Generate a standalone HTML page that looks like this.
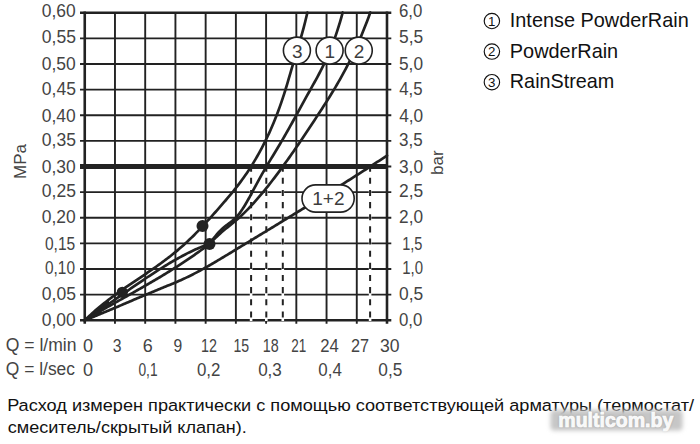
<!DOCTYPE html>
<html><head><meta charset="utf-8"><title>Flow chart</title>
<style>
html,body{margin:0;padding:0;background:#fff;}
body{width:700px;height:444px;overflow:hidden;position:relative;font-family:"Liberation Sans",Arial,sans-serif;}
svg{position:absolute;left:0;top:0;}
svg text{font-family:"Liberation Sans",Arial,sans-serif;}
.note{position:absolute;left:7px;top:393px;width:700px;font-size:16px;line-height:23.7px;color:#111;white-space:nowrap;}
.wm{text-shadow:0 0 3px rgba(0,0,0,.12);}
</style></head><body>
<svg width="700" height="444" viewBox="0 0 700 444">
<defs><filter id="wmb" x="-20%" y="-50%" width="140%" height="200%"><feGaussianBlur stdDeviation="2"/></filter></defs>
<line x1="114.97" y1="12.7" x2="114.97" y2="323.8" stroke="#222" stroke-width="1.9"/>
<line x1="145.20" y1="12.7" x2="145.20" y2="323.8" stroke="#222" stroke-width="1.9"/>
<line x1="175.43" y1="12.7" x2="175.43" y2="323.8" stroke="#222" stroke-width="1.9"/>
<line x1="205.65" y1="12.7" x2="205.65" y2="323.8" stroke="#222" stroke-width="1.9"/>
<line x1="235.88" y1="12.7" x2="235.88" y2="323.8" stroke="#222" stroke-width="1.9"/>
<line x1="266.10" y1="12.7" x2="266.10" y2="323.8" stroke="#222" stroke-width="1.9"/>
<line x1="296.33" y1="12.7" x2="296.33" y2="323.8" stroke="#222" stroke-width="1.9"/>
<line x1="326.55" y1="12.7" x2="326.55" y2="323.8" stroke="#222" stroke-width="1.9"/>
<line x1="356.78" y1="12.7" x2="356.78" y2="323.8" stroke="#222" stroke-width="1.9"/>
<line x1="80" y1="294.667" x2="391.3" y2="294.667" stroke="#222" stroke-width="1.9"/>
<line x1="80" y1="269.034" x2="391.3" y2="269.034" stroke="#222" stroke-width="1.9"/>
<line x1="80" y1="243.401" x2="391.3" y2="243.401" stroke="#222" stroke-width="1.9"/>
<line x1="80" y1="217.768" x2="391.3" y2="217.768" stroke="#222" stroke-width="1.9"/>
<line x1="80" y1="192.135" x2="391.3" y2="192.135" stroke="#222" stroke-width="1.9"/>
<line x1="80" y1="166.502" x2="391.3" y2="166.502" stroke="#222" stroke-width="1.9"/>
<line x1="80" y1="140.869" x2="391.3" y2="140.869" stroke="#222" stroke-width="1.9"/>
<line x1="80" y1="115.236" x2="391.3" y2="115.236" stroke="#222" stroke-width="1.9"/>
<line x1="80" y1="89.603" x2="391.3" y2="89.603" stroke="#222" stroke-width="1.9"/>
<line x1="80" y1="63.970" x2="391.3" y2="63.970" stroke="#222" stroke-width="1.9"/>
<line x1="80" y1="38.337" x2="391.3" y2="38.337" stroke="#222" stroke-width="1.9"/>
<line x1="80" y1="12.7" x2="391.3" y2="12.7" stroke="#222" stroke-width="2.6"/>
<line x1="80" y1="320.3" x2="391.3" y2="320.3" stroke="#222" stroke-width="2.6"/>
<line x1="84.75" y1="11.45" x2="84.75" y2="323.8" stroke="#222" stroke-width="2.6"/>
<line x1="387" y1="11.45" x2="387" y2="323.8" stroke="#222" stroke-width="2.6"/>
<line x1="251.10" y1="167" x2="251.10" y2="321" stroke="#fff" stroke-width="2.6"/>
<line x1="251.10" y1="165.6" x2="251.10" y2="321.5" stroke="#222" stroke-width="2" stroke-dasharray="6.1 6.05"/>
<line x1="266.30" y1="167" x2="266.30" y2="321" stroke="#fff" stroke-width="2.6"/>
<line x1="266.30" y1="165.6" x2="266.30" y2="321.5" stroke="#222" stroke-width="2" stroke-dasharray="6.1 6.05"/>
<line x1="282.80" y1="167" x2="282.80" y2="321" stroke="#fff" stroke-width="2.6"/>
<line x1="282.80" y1="165.6" x2="282.80" y2="321.5" stroke="#222" stroke-width="2" stroke-dasharray="6.1 6.05"/>
<line x1="370.10" y1="167" x2="370.10" y2="321" stroke="#fff" stroke-width="2.6"/>
<line x1="370.10" y1="165.6" x2="370.10" y2="321.5" stroke="#222" stroke-width="2" stroke-dasharray="6.1 6.05"/>
<polygon points="84.75,320.3 109,299.6 109,306.2" fill="#222"/>
<polygon points="84.75,320.3 101,310.6 101,313.6" fill="#222"/>
<path d="M84.75,320.30 L86.25,319.71 L87.75,319.11 L89.25,318.51 L90.75,317.90 L92.25,317.30 L93.75,316.69 L95.25,316.07 L96.75,315.46 L98.25,314.84 L99.75,314.22 L101.25,313.60 L102.75,312.98 L104.25,312.35 L105.75,311.72 L107.25,311.09 L108.75,310.46 L110.25,309.83 L111.75,309.20 L113.25,308.56 L114.75,307.93 L116.25,307.29 L117.75,306.65 L119.25,306.01 L120.75,305.37 L122.25,304.73 L123.75,304.09 L125.25,303.45 L126.75,302.81 L128.25,302.17 L129.75,301.53 L131.25,300.89 L132.75,300.25 L134.25,299.61 L135.75,298.97 L137.25,298.33 L138.75,297.69 L140.25,297.06 L141.75,296.42 L143.25,295.79 L144.75,295.15 L146.25,294.52 L147.75,293.89 L149.25,293.26 L150.75,292.64 L152.25,292.01 L153.75,291.39 L155.25,290.77 L156.75,290.15 L158.25,289.53 L159.75,288.92 L161.25,288.31 L162.75,287.70 L164.25,287.09 L165.75,286.48 L167.25,285.87 L168.75,285.26 L170.25,284.65 L171.75,284.03 L173.25,283.40 L174.75,282.77 L176.25,282.14 L177.75,281.49 L179.25,280.84 L180.75,280.17 L182.25,279.50 L183.75,278.81 L185.25,278.11 L186.75,277.40 L188.25,276.68 L189.75,275.94 L191.25,275.19 L192.75,274.43 L194.25,273.66 L195.75,272.89 L197.25,272.10 L198.75,271.30 L200.25,270.49 L201.75,269.67 L203.25,268.84 L204.75,268.01 L206.25,267.17 L207.75,266.32 L209.25,265.46 L210.75,264.60 L212.25,263.73 L213.75,262.86 L215.25,261.98 L216.75,261.10 L218.25,260.21 L219.75,259.32 L221.25,258.42 L222.75,257.52 L224.25,256.62 L225.75,255.71 L227.25,254.81 L228.75,253.90 L230.25,252.99 L231.75,252.08 L233.25,251.16 L234.75,250.25 L236.25,249.34 L237.75,248.43 L239.25,247.52 L240.75,246.61 L242.25,245.69 L243.75,244.78 L245.25,243.87 L246.75,242.96 L248.25,242.05 L249.75,241.14 L251.25,240.23 L252.75,239.32 L254.25,238.41 L255.75,237.50 L257.25,236.59 L258.75,235.68 L260.25,234.77 L261.75,233.86 L263.25,232.95 L264.75,232.04 L266.25,231.13 L267.75,230.21 L269.25,229.30 L270.75,228.39 L272.25,227.48 L273.75,226.57 L275.25,225.66 L276.75,224.74 L278.25,223.83 L279.75,222.92 L281.25,222.01 L282.75,221.09 L284.25,220.18 L285.75,219.26 L287.25,218.35 L288.75,217.43 L290.25,216.52 L291.75,215.60 L293.25,214.69 L294.75,213.77 L296.25,212.85 L297.75,211.93 L299.25,211.02 L300.75,210.10 L302.25,209.18 L303.75,208.26 L305.25,207.33 L306.75,206.41 L308.25,205.49 L309.75,204.57 L311.25,203.64 L312.75,202.72 L314.25,201.79 L315.75,200.87 L317.25,199.94 L318.75,199.01 L320.25,198.08 L321.75,197.15 L323.25,196.22 L324.75,195.29 L326.25,194.36 L327.75,193.43 L329.25,192.49 L330.75,191.56 L332.25,190.62 L333.75,189.69 L335.25,188.75 L336.75,187.81 L338.25,186.87 L339.75,185.93 L341.25,184.99 L342.75,184.04 L344.25,183.10 L345.75,182.15 L347.25,181.20 L348.75,180.26 L350.25,179.31 L351.75,178.36 L353.25,177.40 L354.75,176.45 L356.25,175.50 L357.75,174.54 L359.25,173.58 L360.75,172.62 L362.25,171.66 L363.75,170.70 L365.25,169.74 L366.75,168.78 L368.25,167.81 L369.75,166.84 L371.25,165.87 L372.75,164.90 L374.25,163.93 L375.75,162.96 L377.25,161.98 L378.75,161.01 L380.25,160.03 L381.75,159.05 L383.25,158.07 L384.75,157.08 L386.25,156.10 L387.00,155.61" fill="none" stroke="#222" stroke-width="2.7" stroke-linecap="round" stroke-linejoin="round"/>
<path d="M84.75,320.29 L86.25,319.30 L87.75,318.29 L89.25,317.28 L90.75,316.27 L92.25,315.26 L93.75,314.24 L95.25,313.21 L96.75,312.19 L98.25,311.16 L99.75,310.12 L101.25,309.09 L102.75,308.05 L104.25,307.01 L105.75,305.97 L107.25,304.92 L108.75,303.88 L110.25,302.83 L111.75,301.79 L113.25,300.74 L114.75,299.69 L116.25,298.64 L117.75,297.59 L119.25,296.55 L120.75,295.50 L122.25,294.45 L123.75,293.41 L125.25,292.36 L126.75,291.32 L128.25,290.28 L129.75,289.24 L131.25,288.20 L132.75,287.17 L134.25,286.13 L135.75,285.10 L137.25,284.08 L138.75,283.05 L140.25,282.03 L141.75,281.02 L143.25,280.01 L144.75,279.00 L146.25,278.00 L147.75,277.00 L149.25,276.01 L150.75,275.02 L152.25,274.04 L153.75,273.06 L155.25,272.09 L156.75,271.12 L158.25,270.17 L159.75,269.21 L161.25,268.27 L162.75,267.33 L164.25,266.41 L165.75,265.48 L167.25,264.57 L168.75,263.67 L170.25,262.78 L171.75,261.89 L173.25,261.02 L174.75,260.15 L176.25,259.30 L177.75,258.46 L179.25,257.63 L180.75,256.81 L182.25,256.00 L183.75,255.21 L185.25,254.43 L186.75,253.66 L188.25,252.91 L189.75,252.17 L191.25,251.44 L192.75,250.73 L194.25,250.03 L195.75,249.35 L197.25,248.69 L198.75,248.04 L200.25,247.41 L201.75,246.79 L203.25,246.19 L204.75,245.61 L206.25,245.05 L207.75,244.51 L209.25,243.98 L209.50,243.89 M209.50,243.91 L211.00,242.36 L212.50,240.84 L214.00,239.34 L215.50,237.88 L217.00,236.45 L218.50,235.05 L220.00,233.69 L221.50,232.36 L223.00,231.07 L224.50,229.81 L226.00,228.58 L227.50,227.37 L229.00,226.16 L230.50,224.96 L232.00,223.75 L233.50,222.53 L235.00,221.29 L236.50,220.02 L238.00,218.71 L239.50,217.37 L241.00,215.99 L242.50,214.57 L244.00,213.12 L245.50,211.64 L247.00,210.13 L248.50,208.58 L250.00,207.01 L251.50,205.40 L253.00,203.77 L254.50,202.11 L256.00,200.42 L257.50,198.70 L259.00,196.96 L260.50,195.20 L262.00,193.41 L263.50,191.60 L265.00,189.77 L266.50,187.91 L268.00,186.04 L269.50,184.14 L271.00,182.23 L272.50,180.29 L274.00,178.33 L275.50,176.36 L277.00,174.37 L278.50,172.36 L280.00,170.34 L281.50,168.29 L283.00,166.23 L284.50,164.16 L286.00,162.07 L287.50,159.97 L289.00,157.85 L290.50,155.72 L292.00,153.57 L293.50,151.41 L295.00,149.24 L296.50,147.06 L298.00,144.87 L299.50,142.67 L301.00,140.45 L302.50,138.23 L304.00,136.00 L305.50,133.76 L307.00,131.51 L308.50,129.25 L310.00,126.99 L311.50,124.72 L313.00,122.44 L314.50,120.16 L316.00,117.87 L317.50,115.58 L319.00,113.28 L320.50,110.98 L322.00,108.67 L323.50,106.35 L325.00,104.02 L326.50,101.67 L328.00,99.30 L329.50,96.91 L331.00,94.50 L332.50,92.05 L334.00,89.58 L335.50,87.07 L337.00,84.52 L338.50,81.94 L340.00,79.31 L341.50,76.64 L343.00,73.92 L344.50,71.15 L346.00,68.32 L347.50,65.44 L349.00,62.49 L350.50,59.48 L352.00,56.41 L353.50,53.27 L355.00,50.06 L356.50,46.77 L358.00,43.40 L359.50,39.95 L361.00,36.42 L362.50,32.81 L364.00,29.10 L365.50,25.30 L367.00,21.41 L368.50,17.42 L370.00,13.33 L370.30,12.50" fill="none" stroke="#222" stroke-width="2.7" stroke-linecap="round" stroke-linejoin="round"/>
<path d="M84.75,320.30 L86.25,319.40 L87.75,318.51 L89.25,317.62 L90.75,316.73 L92.25,315.85 L93.75,314.97 L95.25,314.10 L96.75,313.22 L98.25,312.36 L99.75,311.49 L101.25,310.63 L102.75,309.77 L104.25,308.91 L105.75,308.05 L107.25,307.20 L108.75,306.35 L110.25,305.50 L111.75,304.65 L113.25,303.80 L114.75,302.95 L116.25,302.11 L117.75,301.27 L119.25,300.42 L120.75,299.58 L122.25,298.74 L123.75,297.89 L125.25,297.05 L126.75,296.21 L128.25,295.36 L129.75,294.52 L131.25,293.67 L132.75,292.83 L134.25,291.98 L135.75,291.13 L137.25,290.28 L138.75,289.43 L140.25,288.57 L141.75,287.72 L143.25,286.86 L144.75,286.00 L146.25,285.13 L147.75,284.27 L149.25,283.40 L150.75,282.53 L152.25,281.65 L153.75,280.77 L155.25,279.89 L156.75,279.00 L158.25,278.11 L159.75,277.22 L161.25,276.32 L162.75,275.41 L164.25,274.50 L165.75,273.59 L167.25,272.67 L168.75,271.74 L170.25,270.81 L171.75,269.88 L173.25,268.94 L174.75,267.99 L176.25,267.03 L177.75,266.07 L179.25,265.11 L180.75,264.13 L182.25,263.15 L183.75,262.17 L185.25,261.17 L186.75,260.17 L188.25,259.16 L189.75,258.14 L191.25,257.11 L192.75,256.08 L194.25,255.03 L195.75,253.98 L197.25,252.92 L198.75,251.85 L200.25,250.77 L201.75,249.69 L203.25,248.59 L204.75,247.48 L206.25,246.37 L207.75,245.24 L209.25,244.10 L209.50,243.91 M209.50,243.90 L211.00,241.85 L212.50,239.84 L214.00,237.89 L215.50,236.01 L217.00,234.22 L218.50,232.51 L220.00,230.91 L221.50,229.42 L223.00,228.06 L224.50,226.81 L226.00,225.64 L227.50,224.51 L229.00,223.40 L230.50,222.27 L232.00,221.09 L233.50,219.83 L235.00,218.45 L236.50,216.94 L238.00,215.24 L239.50,213.35 L241.00,211.29 L242.50,209.08 L244.00,206.72 L245.50,204.25 L247.00,201.67 L248.50,199.01 L250.00,196.29 L251.50,193.51 L253.00,190.71 L254.50,187.89 L256.00,185.09 L257.50,182.30 L259.00,179.56 L260.50,176.87 L262.00,174.21 L263.50,171.60 L265.00,169.02 L266.50,166.46 L268.00,163.93 L269.50,161.42 L271.00,158.92 L272.50,156.43 L274.00,153.94 L275.50,151.45 L277.00,148.96 L278.50,146.46 L280.00,143.94 L281.50,141.40 L283.00,138.83 L284.50,136.24 L286.00,133.63 L287.50,130.99 L289.00,128.33 L290.50,125.66 L292.00,122.97 L293.50,120.27 L295.00,117.55 L296.50,114.83 L298.00,112.11 L299.50,109.37 L301.00,106.64 L302.50,103.90 L304.00,101.17 L305.50,98.44 L307.00,95.72 L308.50,93.01 L310.00,90.31 L311.50,87.62 L313.00,84.94 L314.50,82.25 L316.00,79.54 L317.50,76.79 L319.00,74.00 L320.50,71.14 L322.00,68.21 L323.50,65.19 L325.00,62.06 L326.50,58.82 L328.00,55.44 L329.50,51.92 L331.00,48.24 L332.50,44.38 L334.00,40.34 L335.50,36.10 L337.00,31.64 L338.50,26.96 L340.00,22.03 L341.50,16.84 L342.70,12.50" fill="none" stroke="#222" stroke-width="2.7" stroke-linecap="round" stroke-linejoin="round"/>
<path d="M84.75,320.29 L86.25,318.84 L87.75,317.42 L89.25,316.01 L90.75,314.63 L92.25,313.28 L93.75,311.94 L95.25,310.63 L96.75,309.34 L98.25,308.06 L99.75,306.81 L101.25,305.57 L102.75,304.36 L104.25,303.16 L105.75,301.97 L107.25,300.80 L108.75,299.65 L110.25,298.51 L111.75,297.38 L113.25,296.27 L114.75,295.17 L116.25,294.08 L117.75,293.00 L119.25,291.93 L120.75,290.87 L122.25,289.81 L123.75,288.77 L125.25,287.73 L126.75,286.70 L128.25,285.67 L129.75,284.65 L131.25,283.63 L132.75,282.61 L134.25,281.60 L135.75,280.59 L137.25,279.58 L138.75,278.57 L140.25,277.56 L141.75,276.55 L143.25,275.54 L144.75,274.53 L146.25,273.51 L147.75,272.49 L149.25,271.46 L150.75,270.43 L152.25,269.39 L153.75,268.35 L155.25,267.29 L156.75,266.23 L158.25,265.16 L159.75,264.09 L161.25,263.00 L162.75,261.89 L164.25,260.78 L165.75,259.66 L167.25,258.52 L168.75,257.37 L170.25,256.20 L171.75,255.02 L173.25,253.82 L174.75,252.60 L176.25,251.37 L177.75,250.11 L179.25,248.84 L180.75,247.55 L182.25,246.24 L183.75,244.91 L185.25,243.55 L186.75,242.18 L188.25,240.77 L189.75,239.35 L191.25,237.90 L192.75,236.43 L194.25,234.93 L195.75,233.41 L197.25,231.87 L198.75,230.32 L200.25,228.74 L201.75,227.15 L203.25,225.54 L204.75,223.91 L206.25,222.28 L207.75,220.63 L209.25,218.97 L210.75,217.30 L212.25,215.62 L213.75,213.94 L215.25,212.24 L216.75,210.55 L218.25,208.85 L219.75,207.14 L221.25,205.43 L222.75,203.72 L224.25,201.99 L225.75,200.25 L227.25,198.49 L228.75,196.72 L230.25,194.93 L231.75,193.11 L233.25,191.27 L234.75,189.41 L236.25,187.51 L237.75,185.57 L239.25,183.61 L240.75,181.60 L242.25,179.55 L243.75,177.46 L245.25,175.33 L246.75,173.14 L248.25,170.91 L249.75,168.62 L251.25,166.27 L252.75,163.87 L254.25,161.40 L255.75,158.88 L257.25,156.28 L258.75,153.62 L260.25,150.88 L261.75,148.07 L263.25,145.19 L264.75,142.22 L266.25,139.18 L267.75,136.04 L269.25,132.81 L270.75,129.48 L272.25,126.03 L273.75,122.47 L275.25,118.78 L276.75,114.96 L278.25,111.00 L279.75,106.88 L281.25,102.61 L282.75,98.17 L284.25,93.56 L285.75,88.77 L287.25,83.81 L288.75,78.73 L290.25,73.58 L291.75,68.44 L293.25,63.35 L294.75,58.35 L296.25,53.39 L297.75,48.41 L299.25,43.37 L300.75,38.21 L302.25,32.88 L303.75,27.32 L305.25,21.48 L306.75,15.30 L307.40,12.50" fill="none" stroke="#222" stroke-width="2.7" stroke-linecap="round" stroke-linejoin="round"/>
<line x1="80" y1="166.5" x2="387" y2="166.5" stroke="#222" stroke-width="5"/>
<circle cx="122.30" cy="292.30" r="5.6" fill="#222"/>
<circle cx="202.50" cy="225.90" r="6" fill="#222"/>
<circle cx="209.50" cy="243.90" r="6" fill="#222"/>
<circle cx="296.90" cy="50.6" r="13.5" fill="#fff" stroke="#222" stroke-width="1.6"/>
<text x="297.20" y="57.6" font-size="19" text-anchor="middle" fill="#3c3c3c">3</text>
<circle cx="358.75" cy="50.6" r="13.5" fill="#fff" stroke="#222" stroke-width="1.6"/>
<text x="359.05" y="57.6" font-size="19" text-anchor="middle" fill="#3c3c3c">2</text>
<circle cx="329.60" cy="50.6" r="13.5" fill="#fff" stroke="#222" stroke-width="1.6"/>
<text x="329.90" y="57.6" font-size="19" text-anchor="middle" fill="#3c3c3c">1</text>
<rect x="302" y="184.9" width="52.2" height="27.2" rx="13.6" fill="#fff" stroke="#222" stroke-width="1.6"/>
<text x="328.4" y="205.4" font-size="19" text-anchor="middle" fill="#3c3c3c">1+2</text>
<text x="41.80" y="326.23" font-size="17.50" fill="#444" textLength="33.96" lengthAdjust="spacingAndGlyphs">0,00</text>
<text x="398.99" y="326.23" font-size="17.50" fill="#444" textLength="23.37" lengthAdjust="spacingAndGlyphs">0,0</text>
<text x="41.80" y="299.73" font-size="17.50" fill="#444" textLength="34.12" lengthAdjust="spacingAndGlyphs">0,05</text>
<text x="398.99" y="299.73" font-size="17.50" fill="#444" textLength="24.17" lengthAdjust="spacingAndGlyphs">0,5</text>
<text x="44.98" y="274.33" font-size="17.50" fill="#444" textLength="30.01" lengthAdjust="spacingAndGlyphs">0,10</text>
<text x="402.21" y="274.33" font-size="17.50" fill="#444" textLength="20.78" lengthAdjust="spacingAndGlyphs">1,0</text>
<text x="44.98" y="249.73" font-size="17.50" fill="#444" textLength="30.27" lengthAdjust="spacingAndGlyphs">0,15</text>
<text x="402.20" y="249.73" font-size="17.50" fill="#444" textLength="20.23" lengthAdjust="spacingAndGlyphs">1,5</text>
<text x="41.80" y="223.23" font-size="17.50" fill="#444" textLength="33.96" lengthAdjust="spacingAndGlyphs">0,20</text>
<text x="399.05" y="223.23" font-size="17.50" fill="#444" textLength="23.95" lengthAdjust="spacingAndGlyphs">2,0</text>
<text x="41.80" y="197.43" font-size="17.50" fill="#444" textLength="34.12" lengthAdjust="spacingAndGlyphs">0,25</text>
<text x="399.02" y="197.43" font-size="17.50" fill="#444" textLength="24.19" lengthAdjust="spacingAndGlyphs">2,5</text>
<text x="41.80" y="173.23" font-size="17.50" fill="#444" textLength="33.96" lengthAdjust="spacingAndGlyphs">0,30</text>
<text x="399.03" y="173.23" font-size="17.50" fill="#444" textLength="23.98" lengthAdjust="spacingAndGlyphs">3,0</text>
<text x="41.80" y="146.33" font-size="17.50" fill="#444" textLength="34.12" lengthAdjust="spacingAndGlyphs">0,35</text>
<text x="399.03" y="146.33" font-size="17.50" fill="#444" textLength="23.58" lengthAdjust="spacingAndGlyphs">3,5</text>
<text x="41.80" y="122.13" font-size="17.50" fill="#444" textLength="33.96" lengthAdjust="spacingAndGlyphs">0,40</text>
<text x="399.20" y="122.13" font-size="17.50" fill="#444" textLength="23.98" lengthAdjust="spacingAndGlyphs">4,0</text>
<text x="41.80" y="94.63" font-size="17.50" fill="#444" textLength="34.12" lengthAdjust="spacingAndGlyphs">0,45</text>
<text x="399.20" y="94.63" font-size="17.50" fill="#444" textLength="23.28" lengthAdjust="spacingAndGlyphs">4,5</text>
<text x="41.80" y="70.23" font-size="17.50" fill="#444" textLength="33.96" lengthAdjust="spacingAndGlyphs">0,50</text>
<text x="399.04" y="70.23" font-size="17.50" fill="#444" textLength="23.96" lengthAdjust="spacingAndGlyphs">5,0</text>
<text x="41.80" y="42.93" font-size="17.50" fill="#444" textLength="34.12" lengthAdjust="spacingAndGlyphs">0,55</text>
<text x="399.02" y="42.93" font-size="17.50" fill="#444" textLength="24.19" lengthAdjust="spacingAndGlyphs">5,5</text>
<text x="41.80" y="17.03" font-size="17.50" fill="#444" textLength="33.96" lengthAdjust="spacingAndGlyphs">0,60</text>
<text x="399.02" y="17.03" font-size="17.50" fill="#444" textLength="23.36" lengthAdjust="spacingAndGlyphs">6,0</text>
<text x="82.94" y="352.43" font-size="17.50" fill="#444" textLength="10.06" lengthAdjust="spacingAndGlyphs">0</text>
<text x="112.83" y="352.43" font-size="17.50" fill="#444" textLength="8.75" lengthAdjust="spacingAndGlyphs">3</text>
<text x="142.73" y="352.43" font-size="17.50" fill="#444" textLength="9.97" lengthAdjust="spacingAndGlyphs">6</text>
<text x="173.45" y="352.43" font-size="17.50" fill="#444" textLength="8.70" lengthAdjust="spacingAndGlyphs">9</text>
<text x="200.96" y="352.43" font-size="17.50" fill="#444" textLength="15.93" lengthAdjust="spacingAndGlyphs">12</text>
<text x="233.42" y="352.43" font-size="17.50" fill="#444" textLength="15.66" lengthAdjust="spacingAndGlyphs">15</text>
<text x="262.77" y="352.43" font-size="17.50" fill="#444" textLength="15.93" lengthAdjust="spacingAndGlyphs">18</text>
<text x="291.23" y="352.43" font-size="17.50" fill="#444" textLength="15.00" lengthAdjust="spacingAndGlyphs">21</text>
<text x="320.15" y="352.43" font-size="17.50" fill="#444" textLength="18.53" lengthAdjust="spacingAndGlyphs">24</text>
<text x="350.95" y="352.43" font-size="17.50" fill="#444" textLength="18.04" lengthAdjust="spacingAndGlyphs">27</text>
<text x="380.02" y="352.43" font-size="17.50" fill="#444" textLength="19.55" lengthAdjust="spacingAndGlyphs">30</text>
<text x="82.94" y="376.23" font-size="17.50" fill="#444" textLength="10.06" lengthAdjust="spacingAndGlyphs">0</text>
<text x="138.41" y="376.23" font-size="17.50" fill="#444" textLength="19.13" lengthAdjust="spacingAndGlyphs">0,1</text>
<text x="196.94" y="376.23" font-size="17.50" fill="#444" textLength="23.47" lengthAdjust="spacingAndGlyphs">0,2</text>
<text x="258.14" y="376.23" font-size="17.50" fill="#444" textLength="23.72" lengthAdjust="spacingAndGlyphs">0,3</text>
<text x="318.33" y="376.23" font-size="17.50" fill="#444" textLength="23.51" lengthAdjust="spacingAndGlyphs">0,4</text>
<text x="378.34" y="376.23" font-size="17.50" fill="#444" textLength="24.00" lengthAdjust="spacingAndGlyphs">0,5</text>
<text x="5.81" y="351.43" font-size="17.50" fill="#444" textLength="70.74" lengthAdjust="spacingAndGlyphs">Q = l/min</text>
<text x="5.82" y="375.43" font-size="17.50" fill="#444" textLength="69.16" lengthAdjust="spacingAndGlyphs">Q = l/sec</text>
<text x="509.80" y="26.90" font-size="19.80" fill="#111" textLength="178.92" lengthAdjust="spacingAndGlyphs">Intense PowderRain</text>
<text x="509.81" y="57.70" font-size="19.80" fill="#111" textLength="108.40" lengthAdjust="spacingAndGlyphs">PowderRain</text>
<text x="509.84" y="87.50" font-size="19.80" fill="#111" textLength="104.50" lengthAdjust="spacingAndGlyphs">RainStream</text>
<text x="7.15" y="410.67" font-size="16.30" fill="#111" textLength="686.90" lengthAdjust="spacingAndGlyphs">Расход измерен практически с помощью соответствующей арматуры (термостат/</text>
<text x="7.71" y="432.87" font-size="16.30" fill="#111" textLength="239.17" lengthAdjust="spacingAndGlyphs">смеситель/скрытый клапан).</text>
<text transform="translate(25.6,161.5) rotate(-90)" font-size="17" text-anchor="middle" fill="#444">MPa</text>
<text transform="translate(443,162.6) rotate(-90)" font-size="17" text-anchor="middle" fill="#444">bar</text>
<circle cx="491.9" cy="21.00" r="7.7" fill="none" stroke="#111" stroke-width="1.15"/>
<text x="491.6" y="25.75" font-size="13.3" text-anchor="middle" fill="#111">1</text>
<circle cx="491.9" cy="51.60" r="7.7" fill="none" stroke="#111" stroke-width="1.15"/>
<text x="491.6" y="56.35" font-size="13.3" text-anchor="middle" fill="#111">2</text>
<circle cx="491.9" cy="82.20" r="7.7" fill="none" stroke="#111" stroke-width="1.15"/>
<text x="491.6" y="86.95" font-size="13.3" text-anchor="middle" fill="#111">3</text>
<rect x="550.5" y="410" width="132" height="20.5" rx="4" fill="#c6c6c6" filter="url(#wmb)"/>
<text class="wm" x="558.3" y="427" font-size="21" font-weight="bold" fill="#fff" stroke="#fff" stroke-width="0.7" textLength="115" lengthAdjust="spacingAndGlyphs">multicom.by</text>
</svg>
</body></html>
